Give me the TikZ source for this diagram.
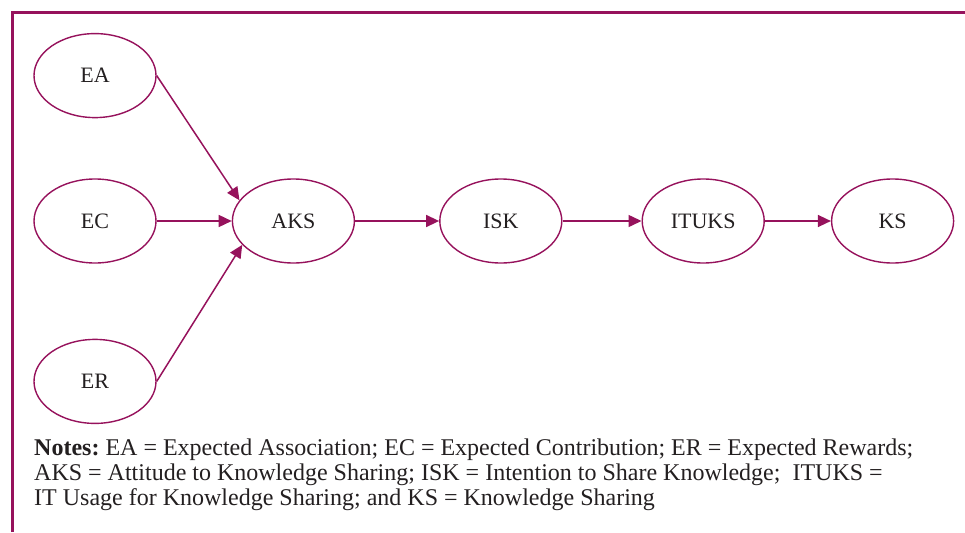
\documentclass[tikz,border=0pt]{standalone}
\usepackage{fontspec}
\setmainfont{Liberation Serif}
\usetikzlibrary{positioning,shapes.geometric,arrows.meta}
\definecolor{plum}{RGB}{150,18,92}
\definecolor{ink}{RGB}{35,31,32}
\tikzset{
	construct/.style={ellipse,draw=plum,line width=1.4pt,minimum width=122pt,minimum height=84pt,inner sep=0pt,text=ink},
}

\begin{document}
\begin{tikzpicture}[x=1pt,y=-1pt,>={Triangle[length=13pt,width=12pt]},font=\fontsize{22}{26}\selectfont]
		\useasboundingbox (0,0) rectangle (965,532);
		\draw[plum,line width=3pt] (12,532) -- (12,13) -- (965,13);
	
		\node[construct] (ec) at (95,221) {EC};
		\node[construct,above=60pt of ec] (ea) {EA};
		\node[construct,below=75pt of ec] (er) {ER};
		\node[construct,right=75pt of ec] (aks) {AKS};
		\node[construct,right=84pt of aks] (isk) {ISK};
		\node[construct,right=79pt of isk] (ituks) {ITUKS};
		\node[construct,right=66pt of ituks] (ks) {KS};
		\path[->,plum,line width=1.5pt]
			(ea.east) edge (aks.159)
			(ec) edge (aks)
			(er.east) edge (aks.205)
			(aks) edge (isk)
			(isk) edge (ituks)
			(ituks) edge (ks)
		;
		\node[anchor=base west,align=left,inner sep=0pt,text=ink,font=\fontsize{24}{25}\selectfont] (notes) at (34,505)
			{\textbf{Notes:}\hspace{-2pt} EA = Expected Association; EC = Expected Contribution; ER = Expected Rewards;\\
			AKS = Attitude to Knowledge Sharing; ISK = Intention to Share Knowledge;\ \ ITUKS =\\
			IT Usage for Knowledge Sharing; and KS = Knowledge Sharing};
	\end{tikzpicture}
\end{document}
